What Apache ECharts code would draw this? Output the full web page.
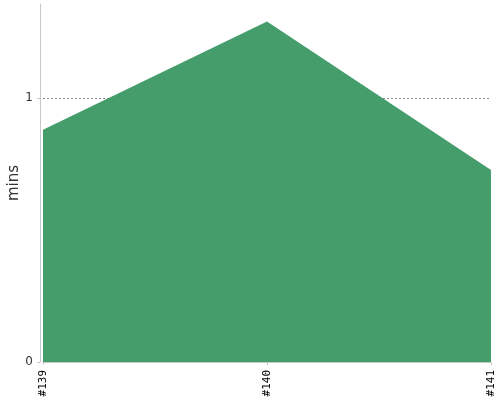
<!DOCTYPE html>
<html>
<head>
<meta charset="utf-8">
<script src="https://cdn.jsdelivr.net/npm/echarts@6/dist/echarts.min.js"></script>
<style>
  html, body { margin: 0; padding: 0; background: #fff; }
  #chart { width: 500px; height: 400px; }
</style>
</head>
<body>
<div id="chart"></div>
<script>
const builds = ['#139', '#140', '#141'];
const durations = [0.88, 1.29, 0.727];
const yMax = 1.356;

const chart = echarts.init(document.getElementById('chart'));

chart.setOption({
  animation: false,
  grid: { left: 43, right: 9, top: 4, bottom: 38, containLabel: false, outerBoundsMode: 'none' },
  xAxis: {
    type: 'category',
    data: builds,
    boundaryGap: false,
    offset: 3,
    axisLine: { lineStyle: { color: '#c8c8c8' } },
    axisTick: { show: true, length: 3, alignWithLabel: true, lineStyle: { color: '#c8c8c8' } },
    axisLabel: {
      rotate: 90,
      margin: 5,
      color: '#000',
      fontFamily: 'DejaVu Sans Mono',
      fontSize: 11
    },
    splitLine: { show: false }
  },
  yAxis: {
    type: 'value',
    min: 0,
    max: yMax,
    interval: 1,
    offset: 3,
    name: 'mins',
    nameLocation: 'middle',
    nameGap: 18,
    nameMoveOverlap: false,
    nameTextStyle: { color: '#333', fontSize: 15, fontFamily: 'DejaVu Sans' },
    axisLine: { show: true, lineStyle: { color: '#c8c8c8' } },
    axisTick: { show: true, length: 3, lineStyle: { color: '#c8c8c8' } },
    axisLabel: {
      color: '#333',
      fontSize: 12,
      fontFamily: 'DejaVu Sans',
      margin: 7,
      showMaxLabel: false
    },
    splitLine: { show: true, showMaxLine: false, lineStyle: { color: '#888', type: [2, 2], width: 1 } }
  },
  series: [{
    type: 'line',
    data: durations,
    symbol: 'none',
    lineStyle: { width: 0 },
    areaStyle: { color: '#459d6c', opacity: 1 }
  }]
});
</script>
</body>
</html>
